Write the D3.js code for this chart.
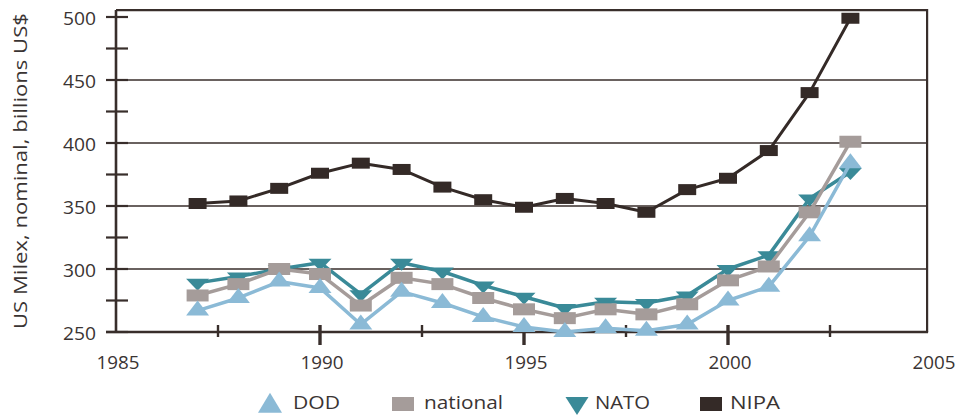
<!DOCTYPE html>
<html><head><meta charset="utf-8">
<script src="https://cdn.jsdelivr.net/npm/d3@7"></script>
<style>
html,body{margin:0;padding:0;background:#fff;}
svg{display:block;}
text{font-family:"Open Sans","Noto Sans",sans-serif;fill:#3a3433;}
</style></head>
<body>
<script>
const years = [1987,1988,1989,1990,1991,1992,1993,1994,1995,1996,1997,1998,1999,2000,2001,2002,2003];
const dod      = [267,277,290,285,256,282,273,262,254,250,253,251,256,275,286,326,384];
const national = [279,288,300,296,271,293,288,277,268,261,268,264,272,291,302,345,401];
const nato     = [289,294,300,305,280,305,298,287,278,269,274,273,279,300,311,356,377];
const nipa     = [352,354,364,376,384,379,365,355,349,356,352,345,363,372,394,440,499];
const yTicks = [250,300,350,400,450,500];
const xTicks = [1985,1990,1995,2000,2005];
const yTitle = "US Milex, nominal, billions US$";
const legendNames = ["DOD","national","NATO","NIPA"];

const W=956,H=415;
const svg=d3.select("body").append("svg").attr("width",W).attr("height",H);
const x=d3.scaleLinear().domain([1985,2005]).range([116,932]);
const y=d3.scaleLinear().domain([250,500]).range([332,17]);
const dark="#382e2b";
const xR=x(2004.88), yT=y(505.5);

// gridlines
svg.append("g").selectAll("line").data(yTicks.filter(v=>v>250&&v<500)).join("line")
  .attr("x1",x(1985)).attr("x2",xR).attr("y1",d=>y(d)).attr("y2",d=>y(d))
  .attr("stroke",dark).attr("stroke-width",1.6);

// frame
svg.append("path").attr("d",`M${x(1985)},${yT}L${xR},${yT}L${xR},${y(250)}`)
  .attr("fill","none").attr("stroke",dark).attr("stroke-width",2.2);
svg.append("line").attr("x1",x(1985)).attr("x2",x(1985)).attr("y1",yT).attr("y2",y(250)+1)
  .attr("stroke",dark).attr("stroke-width",2.6);
svg.append("line").attr("x1",x(1985)-10).attr("x2",xR+1).attr("y1",y(250)).attr("y2",y(250))
  .attr("stroke",dark).attr("stroke-width",2.6);

// y ticks every 25
svg.append("g").selectAll("line").data(d3.range(250,501,25)).join("line")
  .attr("x1",x(1985)-10).attr("x2",x(1985)+12).attr("y1",d=>y(d)).attr("y2",d=>y(d))
  .attr("stroke",dark).attr("stroke-width",2.2);
svg.append("g").selectAll("text").data(yTicks).join("text")
  .attr("x",x(1985)-20).attr("y",d=>y(d)+1).attr("dy","0.36em").attr("text-anchor","end")
  .attr("font-size",19).attr("textLength",33).attr("lengthAdjust","spacingAndGlyphs").text(d=>d);

// x ticks
const xMinor=[1987.5,1992.5,1997.5,2002.5];
svg.append("g").selectAll("line").data(xMinor).join("line")
  .attr("x1",d=>x(d)).attr("x2",d=>x(d)).attr("y1",y(250)-7).attr("y2",y(250)+5)
  .attr("stroke",dark).attr("stroke-width",2.4);
svg.append("g").selectAll("line").data([1990,1995,2000]).join("line")
  .attr("x1",d=>x(d)).attr("x2",d=>x(d)).attr("y1",y(250)-7).attr("y2",y(250)+13)
  .attr("stroke",dark).attr("stroke-width",3.4);
svg.append("g").selectAll("text").data(xTicks).join("text")
  .attr("x",d=>x(d)+2).attr("y",y(250)+30).attr("dy","0.36em").attr("text-anchor","middle")
  .attr("font-size",19).attr("textLength",43).attr("lengthAdjust","spacingAndGlyphs").text(d=>d);

// y title
svg.append("text").attr("transform",`translate(27,${(yT+y(250))/2}) rotate(-90)`)
  .attr("text-anchor","middle").attr("font-size",19)
  .attr("textLength",316).attr("lengthAdjust","spacingAndGlyphs").text(yTitle);

// shapes
function triUp(w,h){return `M0,${-2*h/3}L${w/2},${h/3}L${-w/2},${h/3}Z`;}
function triDown(w,h){return `M0,${2*h/3}L${w/2},${-h/3}L${-w/2},${-h/3}Z`;}
function rect(w,h){return `M${-w/2},${-h/2}h${w}v${h}h${-w}Z`;}

const series=[
  {name:"NATO",vals:nato,color:"#3a8a98",lw:3.5,shape:triDown(23,12)},
  {name:"national",vals:national,color:"#a59c9a",lw:3.5,shape:rect(22,12)},
  {name:"DOD",vals:dod,color:"#8bbad6",lw:3.5,shape:triUp(23,15)},
  {name:"NIPA",vals:nipa,color:"#342a27",lw:3,shape:rect(18,11)}
];
const line=d3.line().x(d=>x(d[0])).y(d=>y(d[1]));
series.forEach(s=>{
  const pts=years.map((yr,i)=>[yr,s.vals[i]]);
  const g=svg.append("g");
  g.append("path").attr("d",line(pts)).attr("fill","none").attr("stroke",s.color).attr("stroke-width",s.lw).attr("stroke-linejoin","round");
  g.selectAll("path.m").data(pts).join("path").attr("class","m")
    .attr("transform",d=>`translate(${x(d[0])},${y(d[1])})`).attr("d",s.shape).attr("fill",s.color);
});

// legend
const leg=[
  {name:legendNames[0],color:"#8bbad6",shape:triUp(24,20),mx:270,my:406,tx:293,tl:47},
  {name:legendNames[1],color:"#a59c9a",shape:rect(22,14),mx:403,my:404,tx:424,tl:79},
  {name:legendNames[2],color:"#3a8a98",shape:triDown(23,18),mx:577,my:403,tx:595,tl:55},
  {name:legendNames[3],color:"#342a27",shape:rect(22,14),mx:711,my:404,tx:730,tl:50}
];
leg.forEach(l=>{
  svg.append("path").attr("transform",`translate(${l.mx},${l.my})`).attr("d",l.shape).attr("fill",l.color);
  svg.append("text").attr("x",l.tx).attr("y",403).attr("dy","0.36em").attr("font-size",17.5)
    .attr("textLength",l.tl).attr("lengthAdjust","spacingAndGlyphs").text(l.name);
});
</script>
</body></html>
